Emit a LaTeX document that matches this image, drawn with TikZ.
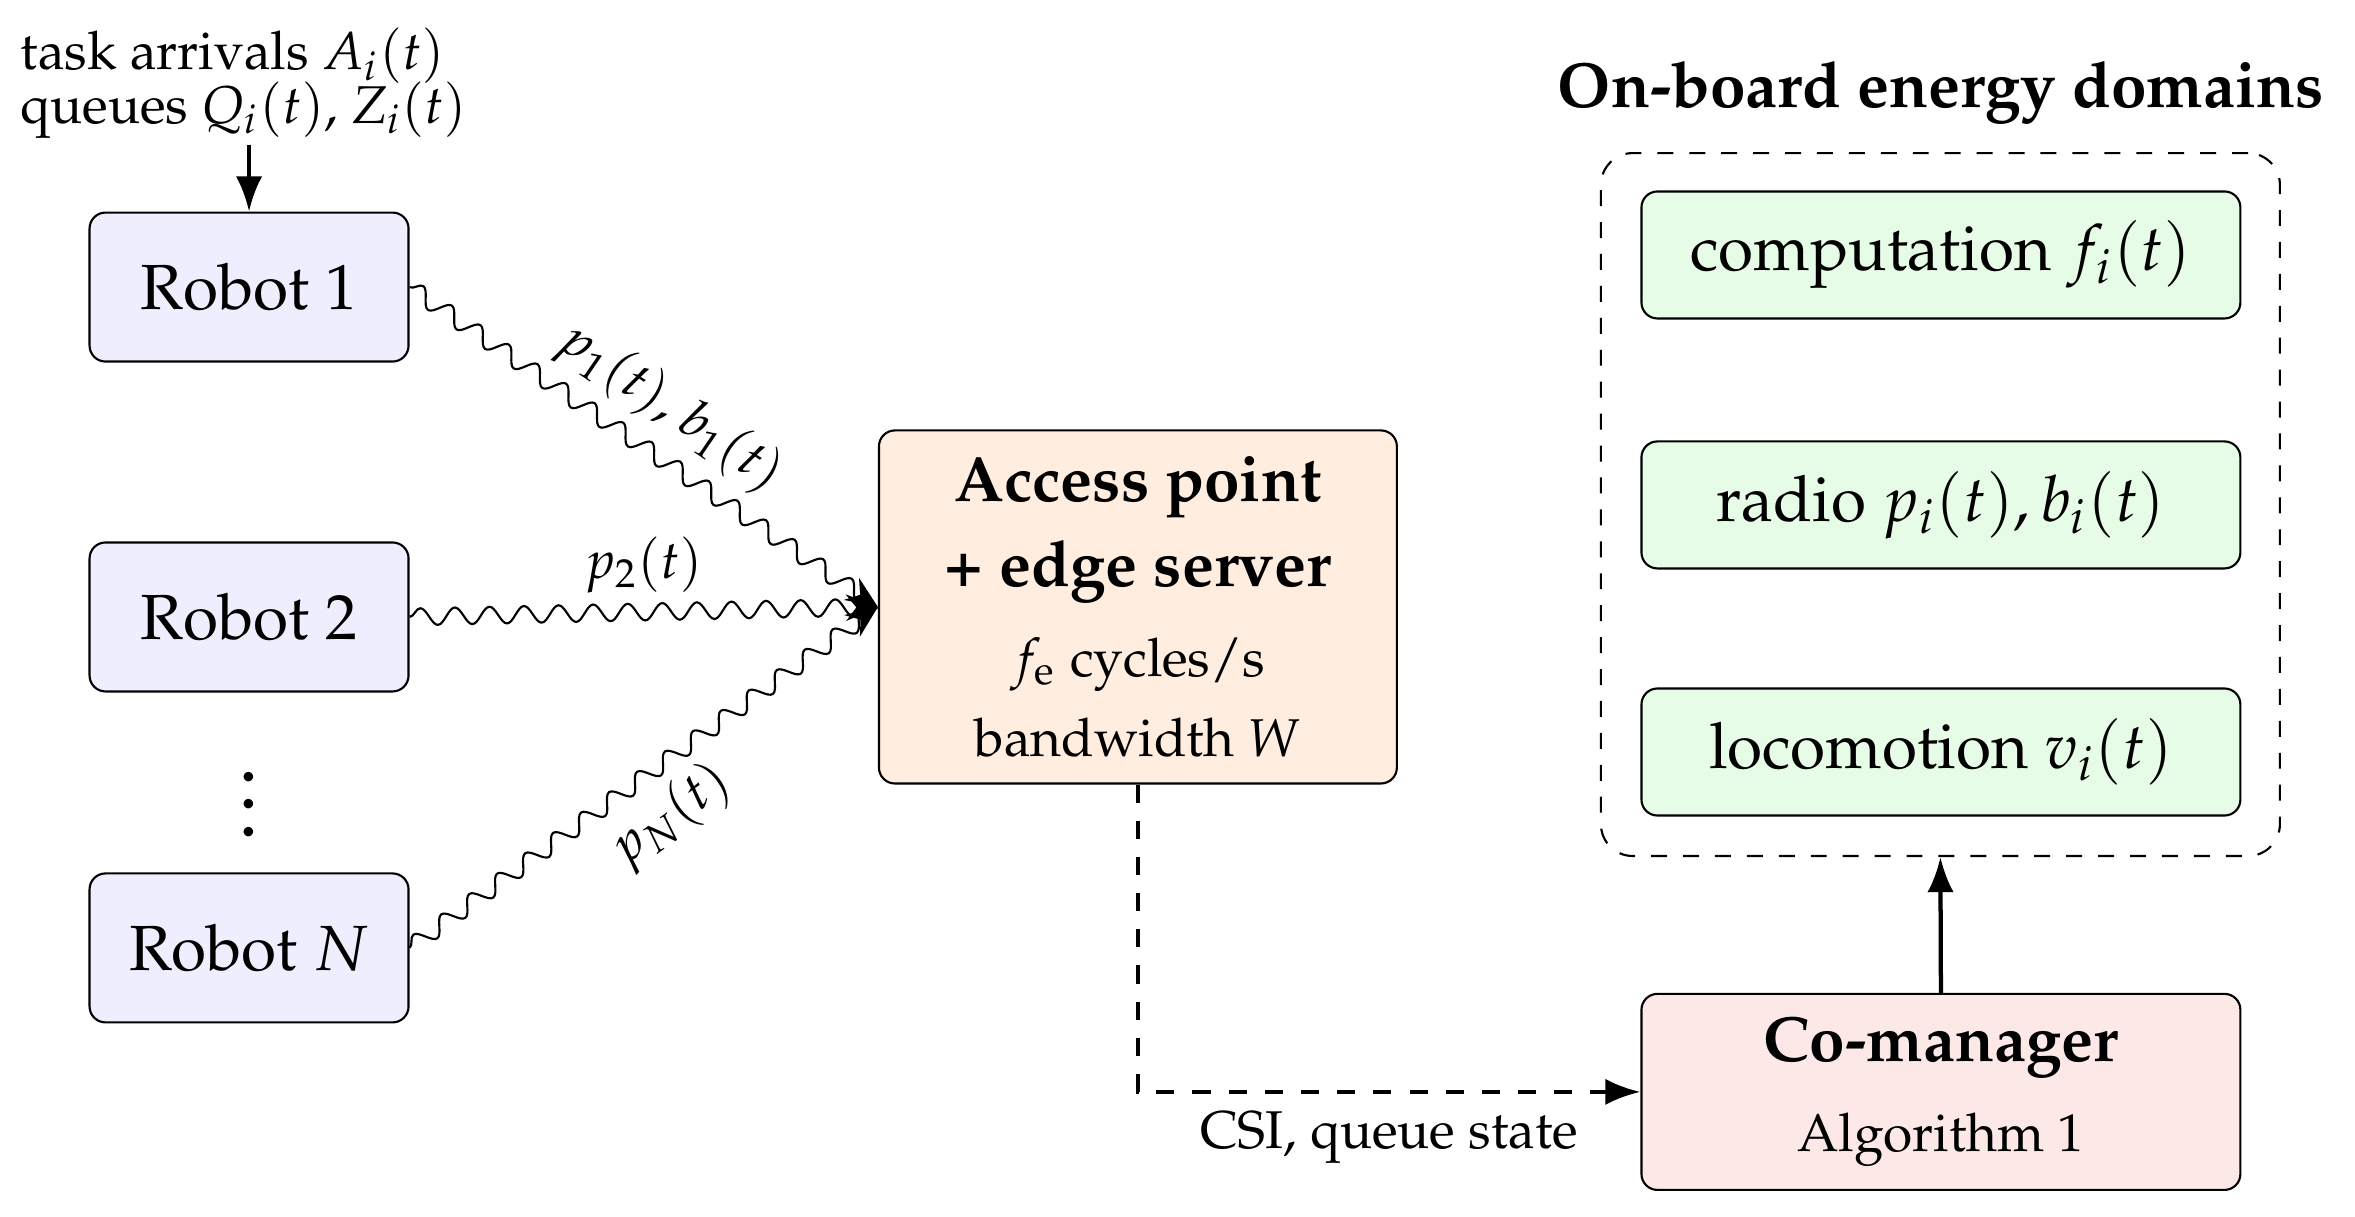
\documentclass[tikz,border=0pt]{standalone}
\usepackage[T1]{fontenc}
\usepackage{mathpazo}
\usepackage{xcolor}
\usepackage{tikz}
\usetikzlibrary{decorations.pathmorphing, arrows.meta, positioning}
\definecolor{RobotFill}{RGB}{238, 238, 255}
\definecolor{APFill}{RGB}{255, 238, 224}
\definecolor{DomFill}{RGB}{230, 252, 230}
\definecolor{MgrFill}{RGB}{253, 232, 232}

\begin{document}
\begin{tikzpicture}[font=\normalsize,
    robot/.style={draw, rounded corners=3pt, fill=RobotFill, minimum width=2.107cm, minimum height=0.984cm, font=\large},
    dombox/.style={draw, rounded corners=3pt, fill=DomFill, minimum width=3.956cm, minimum height=0.839cm, font=\large},
    wave/.style={-{Stealth[length=6pt, width=5pt]}, decorate, decoration={snake, amplitude=1.6pt, segment length=6.5pt}}]
    \useasboundingbox (0,0) rectangle (15.555,-8.032);

    % robots
    \node[align=left, inner sep=1pt] (arr) at (1.61,-0.55) {task arrivals $A_i(t)$\\[-2pt] queues $Q_i(t)$, $Z_i(t)$};
    \node[robot] (r1) at (1.645,-1.896) {Robot 1};
    \node[robot] (r2) at (1.645,-4.075) {Robot 2};
    \node[inner sep=0pt, anchor=south, scale=1.3] (dots) at (1.645,-5.535) {\large$\vdots$};
    \node[robot] (rN) at (1.645,-6.261) {Robot $N$};
    \draw[-{Latex}, thick] (arr.south -| r1.north) -- (r1.north);

    % access point
    \node[draw, rounded corners=3pt, fill=APFill, minimum width=3.421cm, minimum height=2.332cm, align=center] (ap) at (7.516,-4.009)
        {{\large\bfseries Access point}\\[4pt] {\large\bfseries + edge server}\\[5pt] $f_{\mathrm{e}}$ cycles/s\\[3pt] bandwidth $W$};

    % wireless links
    \draw[wave] (r1.east) -- (ap.west) node[midway, above, sloped] {$p_1(t)$, $b_1(t)$};
    \draw[wave] (r2.east) -- (ap.west) node[midway, above] {$p_2(t)$};
    \draw[wave] (rN.east) -- (ap.west) node[midway, below, sloped] {$p_N(t)$};

    % energy domains
    \node[font=\large\bfseries] (title) at (12.82,-0.614) {On-board energy domains};
    \node[draw, dashed, rounded corners=6pt, minimum width=4.485cm, minimum height=4.643cm] (dom) at (12.8165,-3.3325) {};
    \node[dombox] (comp) at (12.82,-1.684) {computation $f_i(t)$};
    \node[dombox] (radio) at (12.82,-3.335) {radio $p_i(t), b_i(t)$};
    \node[dombox] (loco) at (12.82,-4.967) {locomotion $v_i(t)$};

    % co-manager
    \node[draw, rounded corners=3pt, fill=MgrFill, minimum width=3.956cm, minimum height=1.295cm, align=center] (mgr) at (12.82,-7.212)
        {{\large\bfseries Co-manager}\\[5pt] Algorithm 1};
    \draw[-{Latex}, thick] (mgr.north) -- (dom.south);
    \draw[-{Latex}, thick, dash pattern=on 3.4pt off 3.4pt] (ap.south) |- (mgr.west) node[pos=0.75, below] {CSI, queue state};
\end{tikzpicture}
\end{document}
